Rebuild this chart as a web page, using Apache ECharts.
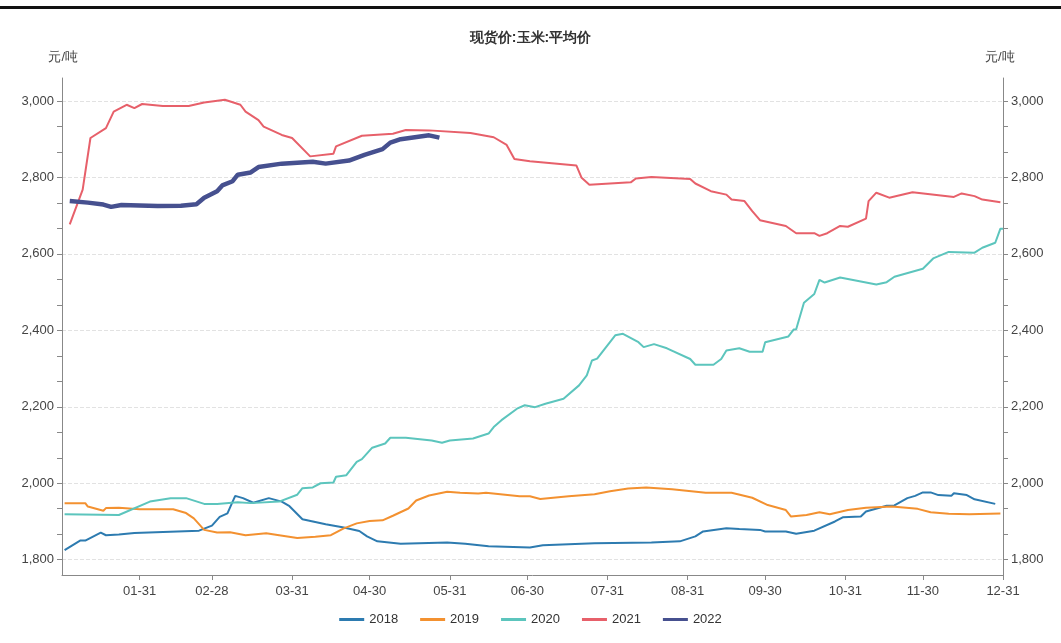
<!DOCTYPE html>
<html>
<head>
<meta charset="utf-8">
<script src="https://cdn.jsdelivr.net/npm/echarts@6/dist/echarts.min.js"></script>
<style>
  body { margin: 0; background: #fff; }
  #topline { position: absolute; left: 0; top: 6px; width: 1061px; height: 3px; background: #111; }
  #chart { width: 1061px; height: 643px; }
</style>
</head>
<body>
<div id="topline"></div>
<div id="chart"></div>
<script>
// [day of year index, price]
const s2018 = [[1,1825],[7,1850],[9,1850],[15,1871],[17,1864],[22,1866],[28,1870],[53,1876],[58,1889],[61,1912],[64,1921],[67,1967],[70,1961],[74,1949],[80,1961],[85,1952],[88,1940],[93,1906],[102,1893],[109,1884],[115,1875],[118,1861],[122,1848],[131,1842],[149,1845],[156,1842],[165,1835],[181,1832],[186,1838],[206,1843],[228,1845],[239,1848],[245,1861],[248,1874],[257,1882],[262,1880],[270,1878],[272,1874],[280,1874],[284,1868],[291,1876],[299,1900],[302,1911],[309,1913],[311,1926],[319,1941],[322,1942],[327,1961],[330,1967],[333,1976],[336,1976],[339,1969],[344,1967],[345,1974],[350,1969],[353,1958],[361,1946]];
const s2019 = [[1,1948],[9,1948],[10,1939],[16,1928],[17,1935],[22,1936],[30,1932],[43,1932],[48,1922],[51,1908],[55,1878],[60,1871],[65,1872],[71,1864],[79,1869],[84,1864],[91,1857],[98,1860],[104,1864],[109,1882],[114,1895],[119,1901],[124,1903],[128,1915],[134,1934],[137,1955],[142,1968],[149,1978],[154,1975],[161,1973],[164,1975],[177,1966],[181,1966],[185,1959],[196,1966],[206,1971],[212,1979],[219,1986],[226,1989],[236,1984],[249,1975],[259,1975],[267,1962],[273,1943],[280,1930],[282,1913],[288,1917],[293,1924],[297,1919],[304,1930],[311,1936],[321,1939],[331,1933],[336,1924],[343,1920],[351,1919],[363,1921]];
const s2020 = [[1,1919],[22,1917],[34,1952],[42,1961],[48,1961],[55,1946],[60,1946],[68,1950],[73,1948],[84,1952],[91,1970],[93,1987],[97,1989],[100,2000],[105,2002],[106,2017],[110,2021],[114,2056],[116,2063],[120,2093],[125,2104],[127,2119],[133,2119],[143,2112],[147,2106],[150,2112],[159,2117],[165,2130],[167,2147],[170,2165],[176,2195],[179,2204],[183,2199],[187,2208],[194,2221],[200,2256],[203,2282],[205,2321],[207,2326],[214,2387],[217,2391],[223,2369],[225,2356],[229,2364],[234,2353],[243,2325],[245,2310],[252,2310],[255,2325],[257,2347],[262,2353],[266,2344],[271,2344],[272,2369],[281,2384],[283,2402],[284,2403],[287,2472],[291,2495],[293,2532],[295,2525],[301,2538],[315,2520],[319,2526],[322,2540],[333,2561],[337,2588],[343,2605],[353,2603],[356,2616],[361,2629],[363,2666],[364,2666]];
const s2021 = [[3,2677],[8,2768],[11,2903],[17,2929],[20,2972],[25,2990],[28,2981],[31,2992],[39,2987],[49,2987],[55,2996],[63,3003],[69,2990],[71,2972],[76,2950],[78,2933],[85,2911],[89,2903],[96,2855],[105,2862],[106,2881],[116,2909],[128,2914],[133,2924],[142,2923],[158,2916],[167,2905],[172,2885],[175,2848],[181,2842],[199,2831],[201,2799],[204,2781],[220,2787],[222,2797],[228,2801],[243,2796],[245,2784],[251,2764],[257,2755],[259,2742],[264,2738],[267,2712],[270,2688],[280,2673],[284,2654],[291,2654],[293,2647],[296,2654],[301,2673],[304,2671],[311,2692],[312,2738],[315,2760],[320,2747],[329,2761],[345,2749],[348,2758],[353,2751],[356,2742],[363,2735]];
const s2022 = [[3,2738],[10,2734],[16,2729],[19,2723],[23,2728],[37,2725],[46,2726],[52,2730],[55,2747],[60,2764],[62,2779],[66,2790],[68,2807],[73,2813],[76,2827],[85,2836],[97,2841],[102,2836],[111,2844],[117,2859],[124,2874],[127,2891],[131,2900],[142,2910],[146,2904]];
const yLabels = [1800, 2000, 2200, 2400, 2600, 2800, 3000];
const monthEnds = ['01-31','02-28','03-31','04-30','05-31','06-30','07-31','08-31','09-30','10-31','11-30','12-31'];

const days = [];
const dim = [31,28,31,30,31,30,31,31,30,31,30,31];
dim.forEach((n, m) => {
  for (let d = 1; d <= n; d++) days.push(String(m + 1).padStart(2, '0') + '-' + String(d).padStart(2, '0'));
});
const tickVals = [];
for (let v = 1800; v <= 3050; v += 200 / 3) tickVals.push(Math.round(v * 100) / 100);

const Y_MIN = 1760, Y_MAX = 3060, TOP = 78, BOTTOM = 68, PLOT_H = 643 - TOP - BOTTOM;
const isEnd = (i, v) => monthEnds.indexOf(v) >= 0;
const yAxisBase = (pos) => ({
  type: 'value', position: pos, min: Y_MIN, max: Y_MAX,
  name: '元/吨', nameGap: 14,
  nameTextStyle: { color: '#444', fontSize: 13, align: pos === 'left' ? 'right' : 'left', padding: pos === 'left' ? [0, -16, 0, 0] : [0, 0, 0, -18] },
  axisLine: { show: true, lineStyle: { color: '#888' } },
  axisTick: { show: true, customValues: tickVals, length: 5, lineStyle: { color: '#888' } },
  axisLabel: { customValues: yLabels, color: '#444', fontSize: 13, formatter: v => v.toLocaleString('en-US') },
  splitLine: { show: false }
});

const chart = echarts.init(document.getElementById('chart'));
const mk = (name, data, color, width) => ({
  name, type: 'line', data, showSymbol: false, symbol: 'none', connectNulls: true,
  lineStyle: { color, width }, itemStyle: { color }
});
chart.setOption({
  animation: false,
  title: { text: '现货价:玉米:平均价', left: 'center', top: 26, textStyle: { fontSize: 14, fontWeight: 'bold', color: '#333' } },
  legend: { bottom: 12, itemWidth: 25, itemHeight: 3, itemGap: 22, icon: 'rect', textStyle: { fontSize: 13, color: '#333' },
    data: ['2018', '2019', '2020', '2021', '2022'] },
  grid: [
    { left: 62, right: 58, top: TOP, bottom: BOTTOM },
    // background grid just for the dashed lines at 1800..3000
    { left: 62, right: 58,
      top: TOP + (Y_MAX - 3000) / (Y_MAX - Y_MIN) * PLOT_H,
      bottom: BOTTOM + (1800 - Y_MIN) / (Y_MAX - Y_MIN) * PLOT_H }
  ],
  xAxis: [{
    type: 'category', data: days, boundaryGap: false,
    axisLine: { lineStyle: { color: '#888' } },
    axisTick: { interval: isEnd, length: 5, lineStyle: { color: '#888' } },
    axisLabel: { interval: isEnd, color: '#444', fontSize: 13, margin: 10 }
  }, { type: 'value', gridIndex: 1, show: false }],
  yAxis: [yAxisBase('left'), yAxisBase('right'), {
    type: 'value', gridIndex: 1, min: 1800, max: 3000, interval: 200,
    axisLine: { show: false }, axisTick: { show: false }, axisLabel: { show: false },
    splitLine: { lineStyle: { color: '#e2e2e2', type: 'dashed' } }
  }],
  series: [
    mk('2018', s2018, '#2d7bb0', 2),
    mk('2019', s2019, '#f39130', 2),
    mk('2020', s2020, '#5cc5bd', 2),
    mk('2021', s2021, '#e7606a', 2),
    mk('2022', s2022, '#46508f', 4.5)
  ]
});
</script>
</body>
</html>
